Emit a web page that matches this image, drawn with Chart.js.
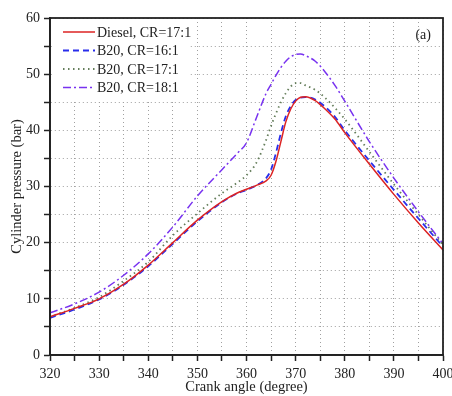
<!DOCTYPE html>
<html>
<head>
<meta charset="utf-8">
<script src="https://cdn.jsdelivr.net/npm/chart.js@4.4.0/dist/chart.umd.min.js"></script>
<style>
html, body { margin: 0; padding: 0; background: #fff; }
</style>
</head>
<body>
<canvas id="plot" width="452" height="396"></canvas>
<script>
// crank angle (degree)
var angles = [320, 325, 330, 335, 340, 345, 350, 355, 358, 360, 362, 364, 365, 366, 367, 368, 369, 370, 371, 372, 374, 376, 378, 380, 385, 390, 395, 400];
// cylinder pressure (bar)
var diesel17 = [6.8, 8.3, 10.0, 12.6, 16.0, 20.0, 24.0, 27.3, 28.8, 29.5, 30.2, 31.0, 32.0, 34.5, 38.0, 41.5, 43.8, 45.2, 45.9, 46.0, 45.3, 43.8, 42.0, 39.6, 34.0, 28.6, 23.5, 18.7];
var b20cr16 = [6.6, 8.1, 9.9, 12.5, 15.8, 19.8, 23.8, 27.2, 28.7, 29.4, 30.2, 31.5, 33.0, 36.0, 39.5, 42.5, 44.3, 45.4, 45.8, 45.9, 45.5, 44.2, 42.4, 40.0, 34.6, 29.4, 24.3, 19.3];
var b20cr17 = [6.8, 8.4, 10.3, 13.2, 16.6, 21.3, 25.2, 28.8, 30.6, 32.0, 34.2, 38.3, 40.8, 43.0, 45.0, 46.6, 47.8, 48.4, 48.4, 48.0, 47.2, 45.8, 44.0, 42.0, 36.2, 30.4, 25.0, 19.6];
var b20cr18 = [7.5, 9.1, 11.2, 14.2, 18.0, 22.8, 28.3, 33.0, 35.8, 37.8, 42.2, 46.6, 48.2, 49.8, 51.2, 52.3, 53.1, 53.5, 53.6, 53.3, 52.3, 50.4, 48.0, 45.2, 38.0, 31.5, 25.5, 19.8];
var seriesLabels = ['Diesel, CR=17:1', 'B20, CR=16:1', 'B20, CR=17:1', 'B20, CR=18:1'];
var xTickValues = [320, 330, 340, 350, 360, 370, 380, 390, 400];
var yTickValues = [0, 10, 20, 30, 40, 50, 60];

var serif = '"Liberation Serif", "DejaVu Serif", serif';

function pts(vals) {
    return angles.map(function (a, i) { return { x: a, y: vals[i] }; });
}

var framePlugin = {
    id: 'frame',
    afterDraw: function (chart) {
        var ctx = chart.ctx, a = chart.chartArea;
        ctx.save();
        // legend panel
        ctx.fillStyle = '#fff';
        ctx.fillRect(a.left + 2, a.top + 2, 137, 80);
        ctx.font = '14px ' + serif;
        ctx.textBaseline = 'middle';
        chart.data.datasets.forEach(function (ds, i) {
            var y = a.top + 14 + i * 18.5;
            var x0 = a.left + 13;
            ctx.strokeStyle = ds.borderColor;
            ctx.lineWidth = ds.borderWidth;
            ctx.setLineDash(ds.borderDash || []);
            ctx.beginPath();
            ctx.moveTo(x0, y);
            ctx.lineTo(x0 + 32, y);
            ctx.stroke();
            ctx.setLineDash([]);
            ctx.fillStyle = '#222';
            ctx.fillText(ds.label, x0 + 34, y + 1);
        });
        // panel label
        ctx.textAlign = 'right';
        ctx.fillText('(a)', a.right - 12, a.top + 17);
        // box
        ctx.strokeStyle = '#222';
        ctx.lineWidth = 1.8;
        ctx.strokeRect(a.left, a.top, a.right - a.left, a.bottom - a.top);
        ctx.restore();
    }
};

function axisGrid() {
    return {
        color: '#a0a0a0',
        lineWidth: 1,
        tickLength: 6,
        tickColor: '#222',
        tickWidth: 1.5
    };
}

var ctx = document.getElementById('plot').getContext('2d');
var chart = new Chart(ctx, {
    type: 'line',
    data: {
        datasets: [{
            label: seriesLabels[0],
            data: pts(diesel17),
            borderColor: 'rgb(220, 35, 35)',
            borderWidth: 1.5
        }, {
            label: seriesLabels[1],
            data: pts(b20cr16),
            borderColor: 'rgb(40, 45, 235)',
            borderWidth: 1.8,
            borderDash: [6, 4]
        }, {
            label: seriesLabels[2],
            data: pts(b20cr17),
            borderColor: 'rgb(100, 125, 90)',
            borderWidth: 1.8,
            borderDash: [1.5, 3.5]
        }, {
            label: seriesLabels[3],
            data: pts(b20cr18),
            borderColor: 'rgb(120, 50, 240)',
            borderWidth: 1.5,
            borderDash: [8, 3, 2, 3]
        }]
    },
    options: {
        responsive: false,
        animation: false,
        layout: { padding: { left: 10, right: 0, top: 18, bottom: 0 } },
        elements: {
            point: { radius: 0 },
            line: { cubicInterpolationMode: 'monotone', fill: false }
        },
        plugins: {
            legend: { display: false },
            tooltip: { enabled: false }
        },
        scales: {
            x: {
                type: 'linear',
                min: 320,
                max: 400,
                grid: axisGrid(),
                border: { color: '#222', width: 1.8, dash: [1, 3] },
                afterFit: function (scale) {
                    scale.height = 41;
                    scale.paddingLeft = 0;
                    scale.paddingRight = 9;
                },
                ticks: {
                    stepSize: 5,
                    autoSkip: false,
                    maxRotation: 0,
                    padding: 6,
                    color: '#222',
                    font: { family: serif, size: 14, lineHeight: 1 },
                    callback: function (v) { return xTickValues.indexOf(v) >= 0 ? v : ''; }
                },
                title: {
                    display: true,
                    text: 'Crank angle (degree)',
                    color: '#222',
                    font: { family: serif, size: 14.5, lineHeight: 1 },
                    padding: { top: 0, bottom: 1.5 }
                }
            },
            y: {
                min: 0,
                max: 60,
                grid: axisGrid(),
                border: { color: '#222', width: 1.8, dash: [1, 3] },
                afterFit: function (scale) {
                    scale.width = 40;
                    scale.paddingTop = 0;
                    scale.paddingBottom = 0;
                },
                ticks: {
                    stepSize: 5,
                    autoSkip: false,
                    padding: 4,
                    color: '#222',
                    font: { family: serif, size: 14 },
                    callback: function (v) { return yTickValues.indexOf(v) >= 0 ? v : ''; }
                },
                title: {
                    display: true,
                    text: 'Cylinder pressure (bar)',
                    color: '#222',
                    font: { family: serif, size: 14.5, lineHeight: 1 },
                    padding: { top: 0, bottom: 2 }
                }
            }
        }
    },
    plugins: [framePlugin]
});
</script>
</body>
</html>
